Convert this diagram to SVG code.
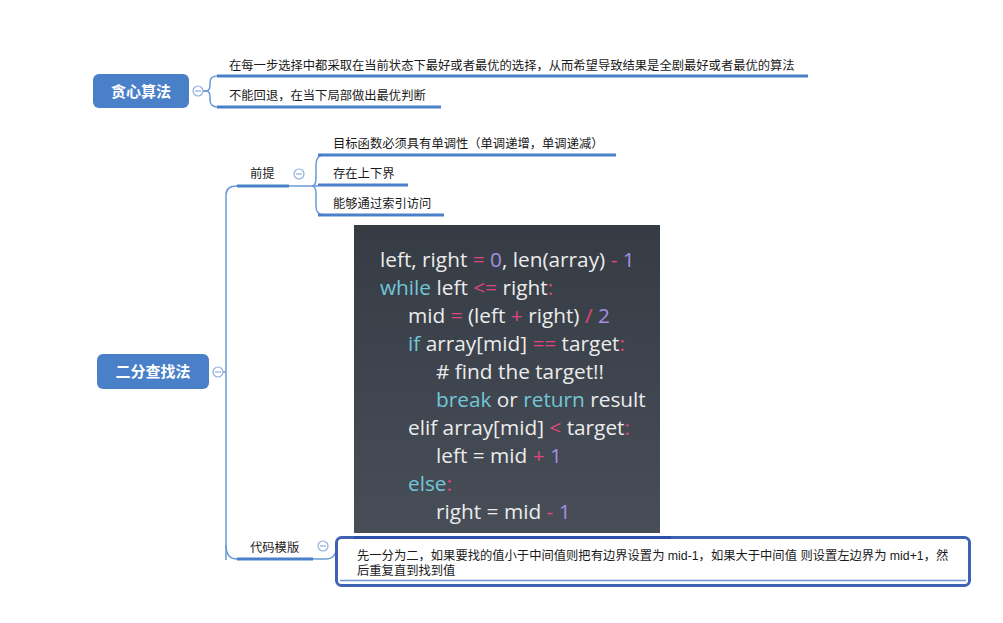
<svg xmlns="http://www.w3.org/2000/svg" width="1003" height="623" viewBox="0 0 1003 623">
<defs>
<linearGradient id="codebg" x1="0" y1="0" x2="0" y2="1">
<stop offset="0" stop-color="#363c44"/>
<stop offset="1" stop-color="#474e58"/>
</linearGradient>
<style>
.root{fill:#4a80c8;}
.roottxt{font-family:"Liberation Sans","Noto Sans CJK SC",sans-serif;font-size:15px;font-weight:bold;fill:#fff;}
.txt{font-family:"Liberation Sans","Noto Sans CJK SC",sans-serif;font-size:12.3px;fill:#1a1a1a;}
.ul{stroke:#4a80c8;stroke-width:3;fill:none;}
.conn{stroke:#6a9ad8;stroke-width:1.5;fill:none;}
.minus{fill:#fff;stroke:#8fb0e0;stroke-width:1.2;}
.minusbar{stroke:#8fb0e0;stroke-width:1.2;}
.code{font-family:"Open Sans","Lato",sans-serif;font-size:20.8px;fill:#ececec;}
.kw{fill:#72c6d8;}
.op{fill:#e0457d;}
.num{fill:#a68ee0;}
</style>
</defs>
<rect width="1003" height="623" fill="#fff"/>
<g id="connectors">
<path class="conn" d="M203,91 H206 Q210,91 210,85 V82 Q210,76 218,76"/>
<path class="conn" d="M203,91 H206 Q210,91 210,97 V100 Q210,107 218,107"/>
<path class="conn" d="M223,372 H226"/>
<path class="conn" d="M226,560 V195 Q226,186 237,186"/>
<path class="conn" d="M226,545 Q226,559 237,559"/>
<path class="conn" d="M289,186 H318"/>
<path class="conn" d="M312,186 Q316,186 316,178 V165 Q316,155 324,155"/>
<path class="conn" d="M312,186 Q316,186 316,194 V206 Q316,215 324,215"/>
<path class="conn" d="M313,559 H326 Q333,559 336,552"/>
</g>
<g id="greedy">
<rect class="root" x="93" y="74" width="96" height="34" rx="6"/>
<text class="roottxt" x="141" y="96.5" text-anchor="middle">贪心算法</text>
<circle class="minus" cx="198" cy="91" r="5"/>
<line class="minusbar" x1="195" y1="91" x2="201" y2="91"/>
</g>
<g id="greedy-1">
<text class="txt" x="229" y="70">在每一步选择中都采取在当前状态下最好或者最优的选择，从而希望导致结果是全剧最好或者最优的算法</text>
<line class="ul" x1="217" y1="76" x2="808" y2="76"/>
</g>
<g id="greedy-2">
<text class="txt" x="229" y="100">不能回退，在当下局部做出最优判断</text>
<line class="ul" x1="217" y1="107" x2="441" y2="107"/>
</g>
<g id="binary">
<rect class="root" x="97" y="354" width="112" height="35" rx="6"/>
<text class="roottxt" x="153" y="377" text-anchor="middle">二分查找法</text>
<circle class="minus" cx="218" cy="372" r="5"/>
<line class="minusbar" x1="215" y1="372" x2="221" y2="372"/>
</g>
<g id="premise">
<text class="txt" x="250" y="178">前提</text>
<line class="ul" x1="237" y1="186" x2="289" y2="186"/>
<circle class="minus" cx="299" cy="174" r="5"/>
<line class="minusbar" x1="296" y1="174" x2="302" y2="174"/>
</g>
<g id="premise-1">
<text class="txt" x="333" y="148">目标函数必须具有单调性（单调递增，单调递减）</text>
<line class="ul" x1="318" y1="155" x2="616" y2="155"/>
</g>
<g id="premise-2">
<text class="txt" x="333" y="178">存在上下界</text>
<line class="ul" x1="318" y1="185" x2="408" y2="185"/>
</g>
<g id="premise-3">
<text class="txt" x="333" y="208">能够通过索引访问</text>
<line class="ul" x1="318" y1="215" x2="444" y2="215"/>
</g>
<g id="code-template">
<text class="txt" x="250" y="552">代码模版</text>
<line class="ul" x1="237" y1="559" x2="313" y2="559"/>
<circle class="minus" cx="323" cy="546" r="5"/>
<line class="minusbar" x1="320" y1="546" x2="326" y2="546"/>
</g>
<g id="code-image">
<rect x="354" y="225" width="306" height="308" fill="url(#codebg)"/>
<text class="code" xml:space="preserve">
<tspan x="380" y="267">left, right <tspan class="op">=</tspan> <tspan class="num">0</tspan>, len(array) <tspan class="op">-</tspan> <tspan class="num">1</tspan></tspan>
<tspan x="380" y="295"><tspan class="kw">while</tspan> left <tspan class="op">&lt;=</tspan> right<tspan class="op">:</tspan></tspan>
<tspan x="408" y="323">mid <tspan class="op">=</tspan> (left <tspan class="op">+</tspan> right) <tspan class="op">/</tspan> <tspan class="num">2</tspan></tspan>
<tspan x="408" y="351"><tspan class="kw">if</tspan> array[mid] <tspan class="op">==</tspan> target<tspan class="op">:</tspan></tspan>
<tspan x="436" y="379"># find the target!!</tspan>
<tspan x="436" y="407"><tspan class="kw">break</tspan> or <tspan class="kw">return</tspan> result</tspan>
<tspan x="408" y="435">elif array[mid] <tspan class="op">&lt;</tspan> target<tspan class="op">:</tspan></tspan>
<tspan x="436" y="463">left = mid <tspan class="op">+</tspan> <tspan class="num">1</tspan></tspan>
<tspan x="408" y="491"><tspan class="kw">else</tspan><tspan class="op">:</tspan></tspan>
<tspan x="436" y="519">right = mid <tspan class="op">-</tspan> <tspan class="num">1</tspan></tspan>
</text>
</g>
<g id="code-note">
<rect x="336.5" y="537.5" width="633" height="48" rx="5" fill="#fff" stroke="#3f62b4" stroke-width="3"/>
<line x1="354" y1="537.5" x2="671" y2="537.5" stroke="#2a50a8" stroke-width="3"/>
<line x1="340" y1="580.5" x2="966" y2="580.5" stroke="#6f95d6" stroke-width="1.5"/>
<text class="txt" x="357" y="560">先一分为二，如果要找的值小于中间值则把有边界设置为 mid-1，如果大于中间值 则设置左边界为 mid+1，然</text>
<text class="txt" x="357" y="575">后重复直到找到值</text>
</g>
</svg>
